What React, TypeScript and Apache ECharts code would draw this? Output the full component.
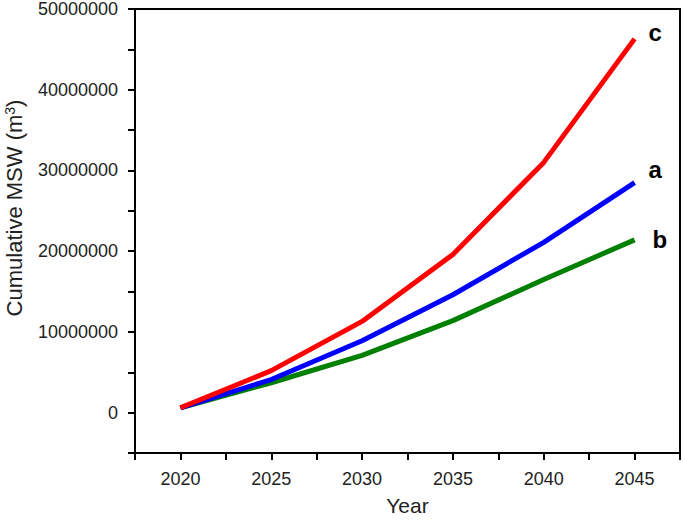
import React, { useEffect, useRef } from "react";
import * as echarts from "echarts";

const years = [2020, 2025, 2030, 2035, 2040, 2045];
const seriesA = [600000, 4100000, 8900000, 14600000, 21100000, 28500000];
const seriesB = [600000, 3700000, 7100000, 11400000, 16500000, 21400000];
const seriesC = [600000, 5200000, 11300000, 19600000, 31000000, 46300000];
const seriesNames = ["b", "a", "c"];
const seriesColors = ["#008000", "#0000ff", "#ff0000"];

const FONT = "Liberation Sans, Arial, sans-serif";

export default function App() {
  const ref = useRef<HTMLDivElement>(null);
  useEffect(() => {
    document.body.style.margin = "0";
    const chart = echarts.init(ref.current!, null, { renderer: "svg" });
    const dataSets = [seriesB, seriesA, seriesC];
    const offsets = [
      [4, 0],
      [0, -13],
      [0, -6],
    ];
    chart.setOption({
      animation: false,
      grid: {
        left: 135,
        right: 5,
        top: 9,
        bottom: 67,
        show: true,
        borderColor: "#000",
        borderWidth: 2,
        backgroundColor: "transparent",
        containLabel: false,
        outerBoundsMode: "none",
      },
      xAxis: {
        type: "value",
        min: 2017.5,
        max: 2047.5,
        interval: 2.5,
        name: "Year",
        nameLocation: "middle",
        nameGap: 42,
        nameTextStyle: { fontSize: 21, color: "#222", fontFamily: FONT },
        axisLine: { show: true, onZero: false, lineStyle: { color: "#000", width: 2 } },
        axisTick: { show: true, inside: false, length: 7, lineStyle: { color: "#000", width: 2 } },
        axisLabel: {
          fontSize: 18,
          color: "#222",
          fontFamily: FONT,
          margin: 17,
          formatter: (v: number) => (Math.round(v) === v && v % 5 === 0 ? String(v) : ""),
        },
        splitLine: { show: false },
      },
      yAxis: {
        type: "value",
        min: -5000000,
        max: 50000000,
        interval: 5000000,
        name: "Cumulative MSW (m{sup|3})",
        nameLocation: "middle",
        nameGap: 109,
        nameRotate: 90,
        nameTextStyle: {
          fontSize: 22,
          color: "#222",
          fontFamily: FONT,
          padding: [0, 0, 0, 46],
          rich: {
            sup: { fontSize: 14, verticalAlign: "top", color: "#222", fontFamily: FONT, padding: [0, 0, 9, 0] },
          },
        },
        axisLine: { show: true, onZero: false, lineStyle: { color: "#000", width: 2 } },
        axisTick: { show: true, inside: false, length: 7, lineStyle: { color: "#000", width: 2 } },
        axisLabel: {
          fontSize: 18,
          color: "#222",
          fontFamily: FONT,
          margin: 17,
          formatter: (v: number) => (v >= 0 && v % 10000000 === 0 ? String(v) : ""),
        },
        splitLine: { show: false },
      },
      series: dataSets.map((d, i) => ({
        type: "line",
        name: seriesNames[i],
        data: years.map((y, j) => [y, d[j]]),
        showSymbol: false,
        symbol: "none",
        lineStyle: { color: seriesColors[i], width: 5 },
        itemStyle: { color: seriesColors[i] },
        z: 2 + i,
        endLabel: {
          show: true,
          formatter: seriesNames[i],
          fontSize: 24,
          fontWeight: "bold",
          color: "#000",
          fontFamily: FONT,
          distance: 14,
          offset: offsets[i],
        },
      })),
    });
    return () => chart.dispose();
  }, []);
  return <div ref={ref} style={{ width: 685, height: 520, position: "absolute", left: 0, top: 0 }} />;
}
